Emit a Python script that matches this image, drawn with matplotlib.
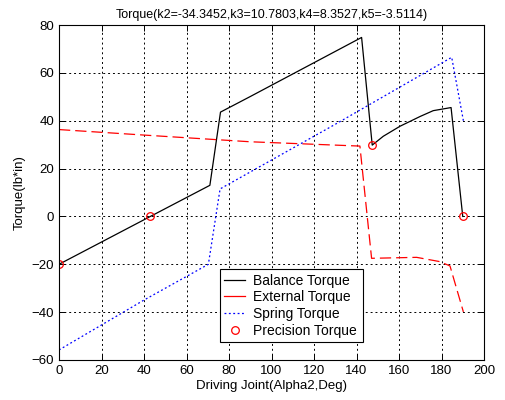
import matplotlib
matplotlib.use("Agg")
import matplotlib.pyplot as plt
from matplotlib.lines import Line2D

plt.rcParams['font.family'] = ['Liberation Sans', 'DejaVu Sans']

# Balance torque
balance_x = [0, 43, 71, 76, 90, 142.4, 147.4, 152.6, 160.5, 170, 176.1, 184.5, 190]
balance_y = [-20, 0, 13, 43.6, 50.1, 74.8, 29.8, 33.5, 37.7, 41.8, 44.2, 45.5, 0]

# External torque
external_x = [0, 40, 90, 141.6, 147.1, 168.3, 179.3, 184, 190.3]
external_y = [36.3, 34.0, 31.2, 29.4, -17.5, -17.1, -18.9, -20.7, -39.9]

# Spring torque
spring_x = [0, 39.7, 70.3, 75.8, 130, 184.8, 190.3]
spring_y = [-55.8, -35.1, -20, 11.5, 38.5, 66.5, 40.0]

# Precision torque points
precision_x = [0, 43, 147.4, 190]
precision_y = [-20, 0, 29.8, 0]

fig = plt.figure(figsize=(5.05, 4.0), dpi=100)
ax = fig.add_axes([59 / 505, 1 - 360 / 400, 425 / 505, 335 / 400])

ax.plot(balance_x, balance_y, color='black', lw=0.9, label='Balance Torque')
ax.plot(external_x, external_y, color='red', lw=0.9, dashes=(9, 4), label='External Torque')
ax.plot(spring_x, spring_y, color='blue', lw=0.9, dashes=(1.5, 2), label='Spring Torque')
ax.plot(precision_x, precision_y, ls='none', marker='o', ms=5.5, mfc='none',
        mec='red', mew=0.9, label='Precision Torque')

ax.set_xlim(0, 200)
ax.set_ylim(-60, 80)
ax.set_xticks(range(0, 201, 20))
ax.set_yticks(range(-60, 81, 20))
ax.grid(True, color='black', lw=0.7, dashes=(2, 3))
ax.tick_params(direction='in', length=4, labelsize=9.5, top=True, right=True, width=0.7)
for s in ax.spines.values():
    s.set_linewidth(0.8)

ax.set_title('Torque(k2=-34.3452,k3=10.7803,k4=8.3527,k5=-3.5114)', fontsize=9, pad=5)
ax.set_xlabel('Driving Joint(Alpha2,Deg)', fontsize=9.5, labelpad=2)
ax.set_ylabel('Torque(lb*in)', fontsize=9.5, labelpad=4)

handles = [
    Line2D([], [], color='black', lw=0.9),
    Line2D([], [], color='red', lw=0.9),
    Line2D([], [], color='blue', lw=0.9, dashes=(1.5, 2)),
    Line2D([], [], ls='none', marker='o', ms=5.5, mfc='none', mec='red', mew=0.9),
]
labels = ['Balance Torque', 'External Torque', 'Spring Torque', 'Precision Torque']
leg = ax.legend(handles, labels, loc='lower left',
                bbox_to_anchor=((220 - 59) / 425, (360 - 342) / 335, (363 - 220) / 425, 0.0),
                mode='expand', fontsize=10, handlelength=1.5, handletextpad=0.6,
                labelspacing=0.2, borderpad=0.3, borderaxespad=0, fancybox=False,
                framealpha=1, edgecolor='black')
leg.get_frame().set_linewidth(0.8)

fig.savefig('out.png', dpi=100, facecolor='white')
